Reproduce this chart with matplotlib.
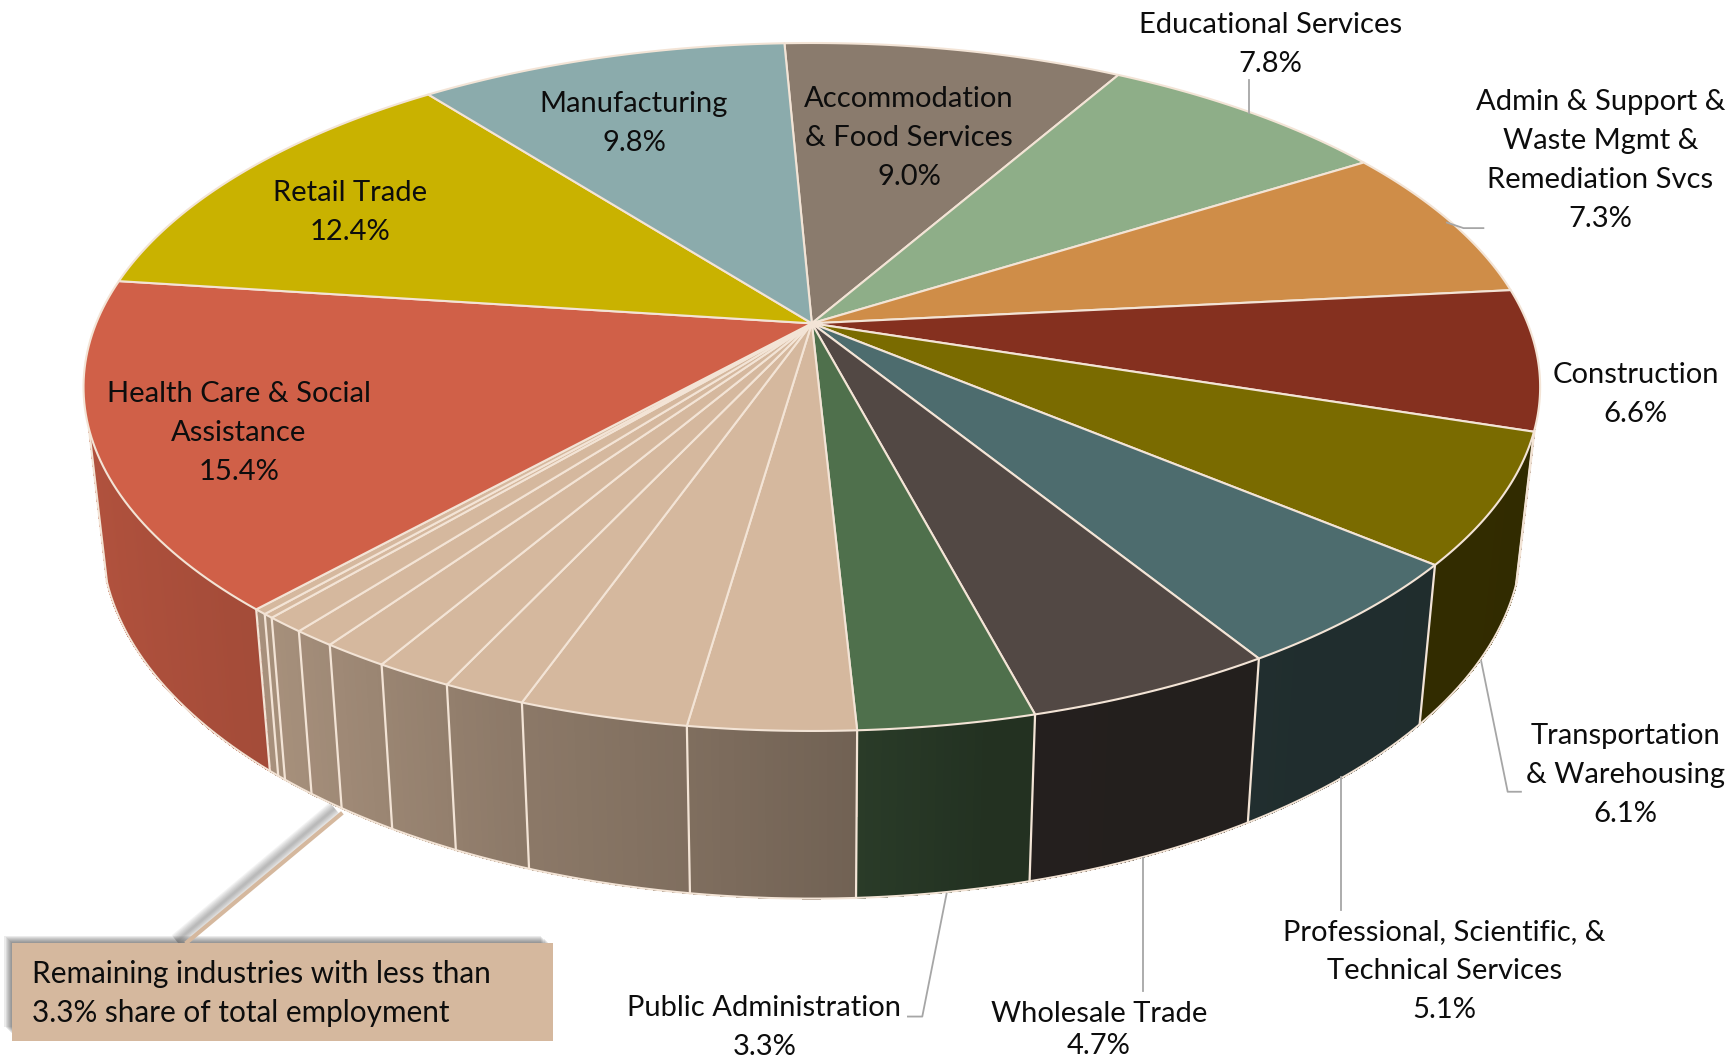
import numpy as np
import matplotlib
matplotlib.use("Agg")
import matplotlib.pyplot as plt
from matplotlib.patches import Polygon, Rectangle

# ---- data (share of total employment, %) clockwise from the top
industries = ["Accommodation & Food Services", "Educational Services",
              "Admin & Support & Waste Mgmt & Remediation Svcs", "Construction",
              "Transportation & Warehousing", "Professional, Scientific, & Technical Services",
              "Wholesale Trade", "Public Administration"]
shares = [9.0, 7.8, 7.3, 6.6, 6.1, 5.1, 4.7, 3.3]
remaining_shares = [3.1, 3.15, 1.55, 1.45, 1.25, 0.8, 0.75, 0.2, 0.25]
last_names = ["Health Care & Social Assistance", "Retail Trade", "Manufacturing"]
last_shares = [15.4, 12.4, 9.8]

top_colors = ["#8A7B6D", "#8EAE88", "#CF8D48", "#85301F", "#7A6B00", "#4D6C6E", "#524844", "#4F704C"]
tan_color = "#D5B89E"
last_colors = ["#D06048", "#C9B200", "#8BABAC"]

values = shares + remaining_shares + last_shares
colors = top_colors + [tan_color] * len(remaining_shares) + last_colors

# ---- layout: perspective disc, units are reference pixels / 1.1073
W, H = 1733, 1063
SX = 1569.0
SY = 1565.0 * H / W
CX = 735.0
K = 0.185
TOP = dict(R=648.0, S=300.0, CY=292.0)
BOT = dict(R=632.0, S=315.0, CY=425.0)
START = -2.6
RIM_FROM, RIM_TO = 107.5, 252.5
EDGE = "#F3E4D6"


def project(theta_deg, p):
    t = np.radians(theta_deg)
    x, y = np.sin(t), -np.cos(t)
    d = 1 - K * y
    return CX + p["R"] * x / d, p["CY"] + p["S"] * y / d


def shade(theta):
    # horizontal gradient on the rim, darker to the lower right
    s = np.sin(np.radians(theta))
    return np.interp(s, [-1.0, -0.65, -0.35, -0.15, 0.05, 0.2, 1.0],
                     [0.86, 0.78, 0.66, 0.60, 0.53, 0.44, 0.40])


fig = plt.figure(figsize=(W / 100, H / 100), dpi=100)
ax = fig.add_axes([0, 0, 1, 1])
ax.set_xlim(0, SX)
ax.set_ylim(SY, 0)
ax.axis("off")

edges = START + np.cumsum([0] + values) * 3.6

# rim pieces on the visible front part
for i, v in enumerate(values):
    a0, a1 = max(edges[i], RIM_FROM), min(edges[i + 1], RIM_TO)
    if a1 <= a0:
        continue
    n = max(2, int((a1 - a0) / 0.5))
    th = np.linspace(a0, a1, n + 1)
    for j in range(n):
        f = shade((th[j] + th[j + 1]) / 2)
        rgb = np.array(matplotlib.colors.to_rgb(colors[i])) * f
        xa, ya = project(th[j:j + 2], TOP)
        xb, yb = project(th[j:j + 2][::-1], BOT)
        ax.add_patch(Polygon(np.c_[np.r_[xa, xb], np.r_[ya, yb]], closed=True,
                             fc=rgb, ec=rgb, lw=0.6, antialiased=False, zorder=2))

# rim separators, silhouette and lower edge
for a in list(edges) + [RIM_FROM, RIM_TO]:
    if RIM_FROM <= a <= RIM_TO:
        xt, yt = project(a, TOP)
        xb, yb = project(a, BOT)
        ax.plot([xt, xb], [yt, yb], color=EDGE, lw=1.6, zorder=3)
arc = np.linspace(RIM_FROM, RIM_TO, 400)
xb, yb = project(arc, BOT)
ax.plot(xb, yb, color=EDGE, lw=1.5, zorder=3)

# top surface
for i, v in enumerate(values):
    th = np.linspace(edges[i], edges[i + 1], 60)
    xs, ys = project(th, TOP)
    ax.add_patch(Polygon(np.c_[np.r_[CX, xs], np.r_[TOP["CY"], ys]], closed=True,
                         fc=colors[i], ec=EDGE, lw=1.5, joinstyle="round", zorder=4))

# labels
FS = 21
LH = 35.2


def label(x, y, lines, lh=LH):
    for n, s in enumerate(lines):
        ax.text(x, y + n * lh, s, ha="center", va="center", fontsize=FS,
                family="Lato", color="#0D0D0D", zorder=10)


label(1150, 22.5, ["Educational Services", f"{shares[1]:.1f}%"])
label(1449, 92.5, ["Admin & Support &", "Waste Mgmt &", "Remediation Svcs", f"{shares[2]:.1f}%"])
label(1481, 338.5, ["Construction", f"{shares[3]:.1f}%"])
label(1472, 665, ["Transportation", "& Warehousing", f"{shares[4]:.1f}%"])
label(1308, 842, ["Professional, Scientific, &", "Technical Services", f"{shares[5]:.1f}%"])
label(995, 916, ["Wholesale Trade", f"{shares[6]:.1f}%"], lh=29)
label(692, 910, ["Public Administration", f"{shares[7]:.1f}%"])
label(823, 89.5, ["Accommodation", "& Food Services", f"{shares[0]:.1f}%"])
label(574, 93.5, ["Manufacturing", f"{last_shares[2]:.1f}%"])
label(317, 174.5, ["Retail Trade", f"{last_shares[1]:.1f}%"])
label(216, 355.5, ["Health Care & Social", "Assistance", f"{last_shares[0]:.1f}%"])

# leader lines
lead = "#A6A6A6"
for xs, ys in [([1131, 1131], [72, 102]),
               ([1310, 1325, 1343], [201, 206, 206]),
               ([1341, 1365, 1377], [597, 715, 715]),
               ([1214, 1214], [702, 822]),
               ([1035, 1035], [775, 895]),
               ([857, 835, 822], [807, 918, 918])]:
    ax.plot(xs, ys, color=lead, lw=1.3, zorder=5)

# callout with soft shadow up and to the left
for g in [7, 6, 5, 4, 3, 2, 1]:
    ax.add_patch(Rectangle((11 - g, 852 - g), 486, 82, fc="#404040", ec="none", alpha=0.10, zorder=6))
    ax.plot([303, 160], [730, 850], color="#404040", lw=g * 1.6, alpha=0.06,
            solid_capstyle="butt", zorder=5.5)
ax.plot([310, 168], [734, 852], color=tan_color, lw=3, solid_capstyle="butt", zorder=6.5)
ax.add_patch(Rectangle((11, 852), 490, 88, fc=tan_color, ec="none", zorder=7))
ax.text(29, 880, "Remaining industries with less than", ha="left", va="center",
        fontsize=21.4, family="Lato", color="#0D0D0D", zorder=10)
ax.text(29, 915, "3.3% share of total employment", ha="left", va="center",
        fontsize=21.4, family="Lato", color="#0D0D0D", zorder=10)

fig.savefig("out.png", dpi=100, facecolor="white")
